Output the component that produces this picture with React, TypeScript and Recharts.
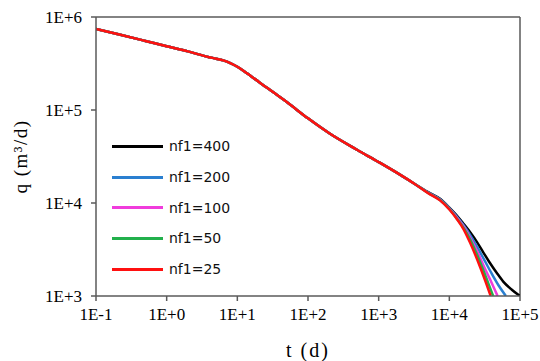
import React from 'react';
import { LineChart, Line, XAxis, YAxis, ReferenceLine } from 'recharts';

const baseT = [0.1, 0.2, 0.5, 1, 2, 3.98, 5.01, 6.31, 7.94, 10, 12.6, 15.8, 20, 31.6, 50.1, 100, 200, 500, 1000, 2000, 3162];
const baseQ = [743000, 656000, 553000, 485000, 427000, 369800, 356500, 341200, 319900, 291700, 260000, 229100, 201800, 156700, 121600, 81300, 56200, 37150, 27540, 20180, 16220];

const tail400T = [5012, 7380, 10000, 12589, 15740, 19953, 24380, 30200, 37584, 46774, 57943, 75858, 100000];
const tail400Q = [13120, 11090, 8913, 7413, 6026, 4786, 3846, 2951, 2265, 1778, 1429, 1175, 1000];
const tail200T = [5012, 7380, 10000, 12589, 15740, 19953, 25119, 31623, 39811, 50119, 63096];
const tail200Q = [12970, 10960, 8810, 7244, 5821, 4467, 3311, 2399, 1738, 1288, 1000];
const tail100T = [5012, 7380, 10000, 12589, 15849, 19953, 25119, 31623, 39811, 48195];
const tail100Q = [12880, 10840, 8710, 7079, 5623, 4169, 2951, 1995, 1380, 1000];
const tail50T = [5012, 7380, 10000, 12589, 15849, 19953, 25119, 31623, 36308, 41687];
const tail50Q = [12820, 10760, 8610, 6918, 5433, 3981, 2692, 1738, 1318, 1000];
const tail25T = [5012, 7380, 10000, 12700, 15849, 19630, 27164, 33113, 38459];
const tail25Q = [12740, 10670, 8511, 6761, 5248, 3758, 2065, 1380, 1000];

const seriesNames = ['nf1=400', 'nf1=200', 'nf1=100', 'nf1=50', 'nf1=25'];
const seriesColors = ['#000000', '#2a7fd0', '#f03cdc', '#22b04c', '#ff1010'];
const tailsT = [tail400T, tail200T, tail100T, tail50T, tail25T];
const tailsQ = [tail400Q, tail200Q, tail100Q, tail50Q, tail25Q];

const xTicks = [0.1, 1, 10, 100, 1000, 10000, 100000];
const xTickLabels = ['1E-1', '1E+0', '1E+1', '1E+2', '1E+3', '1E+4', '1E+5'];
const yTicks = [1000, 10000, 100000, 1000000];
const yTickLabels = ['1E+3', '1E+4', '1E+5', '1E+6'];

const base = baseT.map((t, i) => ({ t, q: baseQ[i] }));
const seriesData = tailsT.map((tt, s) => base.concat(tt.map((t, i) => ({ t, q: tailsQ[s][i] }))));

const tickFont = { fontFamily: '"Liberation Serif", serif', fontSize: 17, fill: '#000' };
const axisColor = '#5a5a5a';

function LegendBox() {
  return (
    <div style={{ position: 'absolute', left: 112, top: 131, fontFamily: '"DejaVu Sans", sans-serif', fontSize: 14, color: '#111' }}>
      {seriesNames.map((n, i) => (
        <div key={n} style={{ display: 'flex', alignItems: 'center', height: 30.7 }}>
          <div style={{ width: 51, height: 0, borderTop: `3px solid ${seriesColors[i]}`, marginRight: 6 }} />
          <span>{n}</span>
        </div>
      ))}
    </div>
  );
}

export default function App() {
  return (
    <div style={{ position: 'absolute', left: 0, top: 0, width: 540, height: 361, background: '#fff' }}>
      <LineChart width={540} height={361} margin={{ top: 17, right: 20, left: 36, bottom: 0 }}>
        <XAxis
          type="number"
          dataKey="t"
          scale="log"
          domain={[0.1, 100000]}
          allowDataOverflow
          ticks={xTicks}
          tickFormatter={(v: number) => xTickLabels[xTicks.indexOf(v)] ?? ''}
          tick={tickFont}
          tickSize={5}
          tickMargin={7}
          height={65}
          stroke={axisColor}
          strokeWidth={1.5}
          label={{ value: 't (d)', position: 'insideBottom', offset: 4, style: { fontFamily: '"Liberation Serif", serif', fontSize: 20, fill: '#000', letterSpacing: 2 } }}
        />
        <YAxis
          type="number"
          dataKey="q"
          scale="log"
          domain={[1000, 1000000]}
          allowDataOverflow
          ticks={yTicks}
          tickFormatter={(v: number) => yTickLabels[yTicks.indexOf(v)] ?? ''}
          tick={tickFont}
          tickSize={5}
          tickMargin={9}
          width={60}
          stroke={axisColor}
          strokeWidth={1.5}
          label={{ value: 'q (m³/d)', angle: -90, position: 'insideLeft', offset: -16, style: { textAnchor: 'middle', fontFamily: '"Liberation Serif", serif', fontSize: 19, fill: '#000', letterSpacing: 1.5 } }}
        />
        <ReferenceLine y={1000000} stroke={axisColor} strokeWidth={1.5} />
        <ReferenceLine x={100000} stroke={axisColor} strokeWidth={1.5} />
        {seriesData.map((d, i) => (
          <Line
            key={seriesNames[i]}
            data={d}
            dataKey="q"
            name={seriesNames[i]}
            type="monotone"
            stroke={seriesColors[i]}
            strokeWidth={2.5}
            dot={false}
            isAnimationActive={false}
          />
        ))}
      </LineChart>
      <LegendBox />
    </div>
  );
}
